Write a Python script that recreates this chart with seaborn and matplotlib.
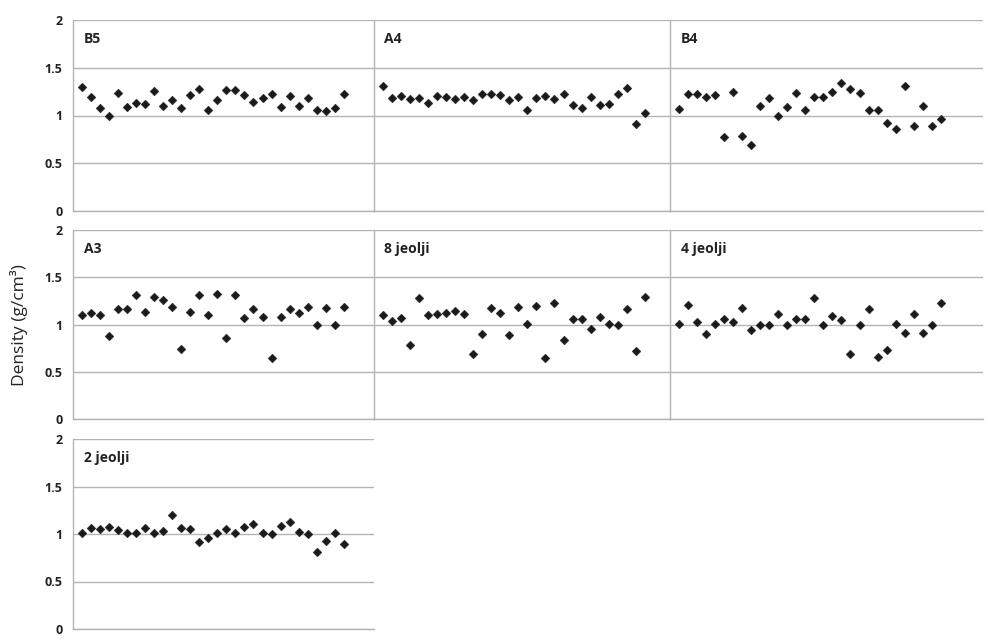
import numpy as np
import pandas as pd
import seaborn as sns
import matplotlib.pyplot as plt

sns.set_style('white')
plt.rcParams['font.family'] = ['Open Sans', 'DejaVu Sans']

# Densidad por muestra (30 puntos por panel)
titles = ['B5', 'A4', 'B4', 'A3', '8 jeolji', '4 jeolji', '2 jeolji']
b5 = [1.30, 1.19, 1.08, 1.00, 1.24, 1.09, 1.13, 1.12, 1.26, 1.10, 1.16, 1.08, 1.21, 1.28, 1.06,
      1.16, 1.27, 1.27, 1.21, 1.14, 1.18, 1.23, 1.09, 1.20, 1.10, 1.18, 1.06, 1.05, 1.08, 1.22]
a4 = [1.31, 1.18, 1.20, 1.17, 1.18, 1.13, 1.20, 1.19, 1.17, 1.19, 1.16, 1.23, 1.23, 1.21, 1.16,
      1.19, 1.06, 1.18, 1.20, 1.17, 1.23, 1.11, 1.08, 1.19, 1.11, 1.12, 1.22, 1.29, 0.91, 1.03]
b4 = [1.07, 1.23, 1.23, 1.19, 1.21, 0.77, 1.25, 0.79, 0.69, 1.10, 1.18, 1.00, 1.09, 1.24, 1.06,
      1.19, 1.19, 1.25, 1.34, 1.28, 1.24, 1.06, 1.06, 0.92, 0.86, 1.31, 0.89, 1.10, 0.89, 0.96]
a3 = [1.10, 1.12, 1.10, 0.88, 1.16, 1.16, 1.31, 1.13, 1.29, 1.26, 1.18, 0.74, 1.13, 1.31, 1.10,
      1.32, 0.86, 1.31, 1.07, 1.16, 1.08, 0.65, 1.08, 1.16, 1.12, 1.18, 1.00, 1.17, 1.00, 1.18]
j8 = [1.10, 1.04, 1.07, 0.78, 1.28, 1.10, 1.11, 1.12, 1.14, 1.11, 0.69, 0.90, 1.17, 1.12, 0.89,
      1.18, 1.01, 1.20, 0.65, 1.23, 0.84, 1.06, 1.06, 0.95, 1.08, 1.01, 0.99, 1.16, 0.72, 1.29]
j4 = [1.01, 1.21, 1.03, 0.90, 1.01, 1.06, 1.03, 1.17, 0.94, 1.00, 1.00, 1.11, 1.00, 1.06, 1.06,
      1.28, 1.00, 1.09, 1.05, 0.69, 1.00, 1.16, 0.66, 0.73, 1.01, 0.91, 1.11, 0.91, 1.00, 1.23]
j2 = [1.01, 1.06, 1.05, 1.07, 1.04, 1.01, 1.01, 1.06, 1.01, 1.03, 1.20, 1.06, 1.05, 0.92, 0.96,
      1.01, 1.05, 1.01, 1.07, 1.11, 1.01, 1.00, 1.08, 1.13, 1.02, 1.00, 0.81, 0.93, 1.01, 0.89]
series = [b5, a4, b4, a3, j8, j4, j2]
yticks = [0, 0.5, 1, 1.5, 2]

W, H = 990, 639
fig = plt.figure(figsize=(W / 100, H / 100), dpi=100)

# Cajas de cada panel en píxeles: (izq, der, arriba, abajo)
cols = [(73, 374), (374, 670), (670, 983)]
rows = [(20, 211), (230, 419), (439, 629)]
boxes = [(c, r) for r in rows for c in cols][:7]

grey = '#b4b4b4'
for i, ((x0, x1), (y0, y1)) in enumerate(boxes):
    ax = fig.add_axes([x0 / W, 1 - y1 / H, (x1 - x0) / W, (y1 - y0) / H])
    df = pd.DataFrame({'n': np.arange(1, len(series[i]) + 1), 'd': series[i]})
    sns.scatterplot(data=df, x='n', y='d', marker='D', color='#1a1a1a', s=20,
                    edgecolor='#1a1a1a', linewidth=0.3, ax=ax, zorder=3)
    first_px = 8.5
    ax.set_xlim(1 - first_px / 9.05, 1 - first_px / 9.05 + (x1 - x0) / 9.05)
    ax.set_ylim(0, 2)
    ax.set_yticks(yticks)
    ax.set_xticks([])
    ax.set_xlabel('')
    ax.set_ylabel('')
    ax.grid(axis='y', color=grey, linewidth=1)
    ax.set_axisbelow(True)
    for s in ['top', 'right']:
        ax.spines[s].set_visible(False)
    for s in ['left', 'bottom']:
        ax.spines[s].set_color(grey)
        ax.spines[s].set_linewidth(1)
    ax.tick_params(axis='y', direction='out', length=4, color=grey, width=1)
    if x0 == 73:
        ax.set_yticklabels(['0', '0.5', '1', '1.5', '2'], fontsize=9, fontweight='bold',
                           color='#222222')
    else:
        ax.set_yticklabels([])
    ax.text(0.035, 0.9, titles[i], transform=ax.transAxes, fontsize=10,
            fontweight='bold', color='#222222', va='center', ha='left')

fig.text(19 / W, 1 - 325 / H, 'Density (g/cm³)', rotation=90, fontsize=12.5,
         va='center', ha='center', color='#222222')

fig.savefig('out.png', dpi=100)
